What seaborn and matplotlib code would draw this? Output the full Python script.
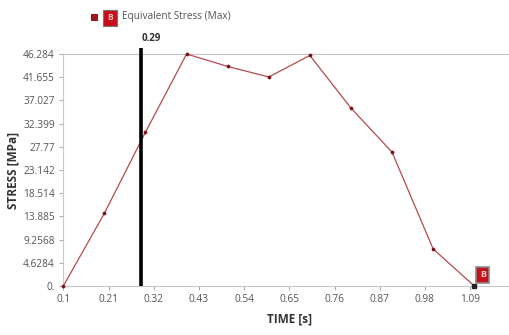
import pandas as pd
import matplotlib.pyplot as plt
import seaborn as sns
from matplotlib.patches import Rectangle

# Data
time_s = [0.1, 0.2, 0.3, 0.4, 0.5, 0.6, 0.7, 0.8, 0.9, 1.0, 1.1]
stress_mpa = [0.0, 14.5, 30.7, 46.284, 43.8, 41.7, 46.0, 35.5, 26.7, 7.4, 0.0]
y_ticks = [0, 4.6284, 9.2568, 13.885, 18.514, 23.142, 27.77, 32.399, 37.027, 41.655, 46.284]
y_labels = ["0.", "4.6284", "9.2568", "13.885", "18.514", "23.142", "27.77",
            "32.399", "37.027", "41.655", "46.284"]
x_ticks = [0.1, 0.21, 0.32, 0.43, 0.54, 0.65, 0.76, 0.87, 0.98, 1.09, 1.2]
x_labels = ["0.1", "0.21", "0.32", "0.43", "0.54", "0.65", "0.76", "0.87", "0.98", "1.09", "1.2"]
cursor_time = 0.29

df = pd.DataFrame({"Time": time_s, "Stress": stress_mpa})

sns.set_theme(style="white")
plt.rcParams['font.family'] = ['Open Sans', 'DejaVu Sans']

fig = plt.figure(figsize=(5.09, 3.35), dpi=100)
ax = fig.add_axes([0.1244, 0.1463, 0.888, 0.6925])

sns.lineplot(data=df, x="Time", y="Stress", ax=ax, color="#b54a4d", linewidth=0.9,
             marker="o", markersize=2.2, markerfacecolor="#7a1015",
             markeredgecolor="#7a1015", markeredgewidth=0.5, clip_on=False, zorder=3)

ax.set_xlim(0.1, 1.2)
ax.set_ylim(0, 46.284)
ax.set_xticks(x_ticks)
ax.set_xticklabels(x_labels)
ax.set_yticks(y_ticks)
ax.set_yticklabels(y_labels)
ax.tick_params(axis="both", labelsize=7.3, colors="#9a9a9a", labelcolor="#555555",
               length=3, width=0.6, direction="out", left=True, bottom=True, pad=3)

for side in ["top", "left", "bottom"]:
    ax.spines[side].set_color("#c8c8c8")
    ax.spines[side].set_linewidth(0.8)
ax.spines["right"].set_visible(False)

ax.set_xlabel("TIME [s]", fontsize=8.5, fontweight="bold", color="#333333", labelpad=5)
ax.set_ylabel("STRESS [MPa]", fontsize=8.5, fontweight="bold", color="#333333", labelpad=3)

# cursor line at 0.29
ax.plot([cursor_time, cursor_time], [0, 47.5], color="black", linewidth=2.6,
        solid_capstyle="butt", clip_on=False, zorder=4)
ax.text(cursor_time, 48.2, "0.29", ha="left", va="bottom", fontsize=7,
        fontweight="bold", color="#333333")

# "B" tag at the last point
ax.plot([time_s[-1]], [stress_mpa[-1]], marker="s", markersize=3, color="#222222",
        clip_on=False, zorder=4)
ax.text(1.121, 2.2, "B", ha="center", va="center", fontsize=6.5, fontweight="bold",
        color="#f3c8c8", zorder=5,
        bbox=dict(boxstyle="square,pad=0.4", facecolor="#c8101a", edgecolor="#8a8a8a", linewidth=1.2))

# legend at the top
fig.patches.append(Rectangle((91 / 509, 1 - 21 / 335), 7 / 509, 7 / 335,
                             transform=fig.transFigure, facecolor="#a0141c", edgecolor="none"))
fig.text(110 / 509, 1 - 18 / 335, "B", ha="center", va="center", fontsize=6,
         fontweight="bold", color="#f0c0c0",
         bbox=dict(boxstyle="square,pad=0.45", facecolor="#c8101a", edgecolor="#777777", linewidth=0.8))
fig.text(122 / 509, 1 - 17 / 335, "Equivalent Stress (Max)", ha="left", va="center",
         fontsize=7.2, color="#555555")

fig.savefig("out.png", dpi=100)
